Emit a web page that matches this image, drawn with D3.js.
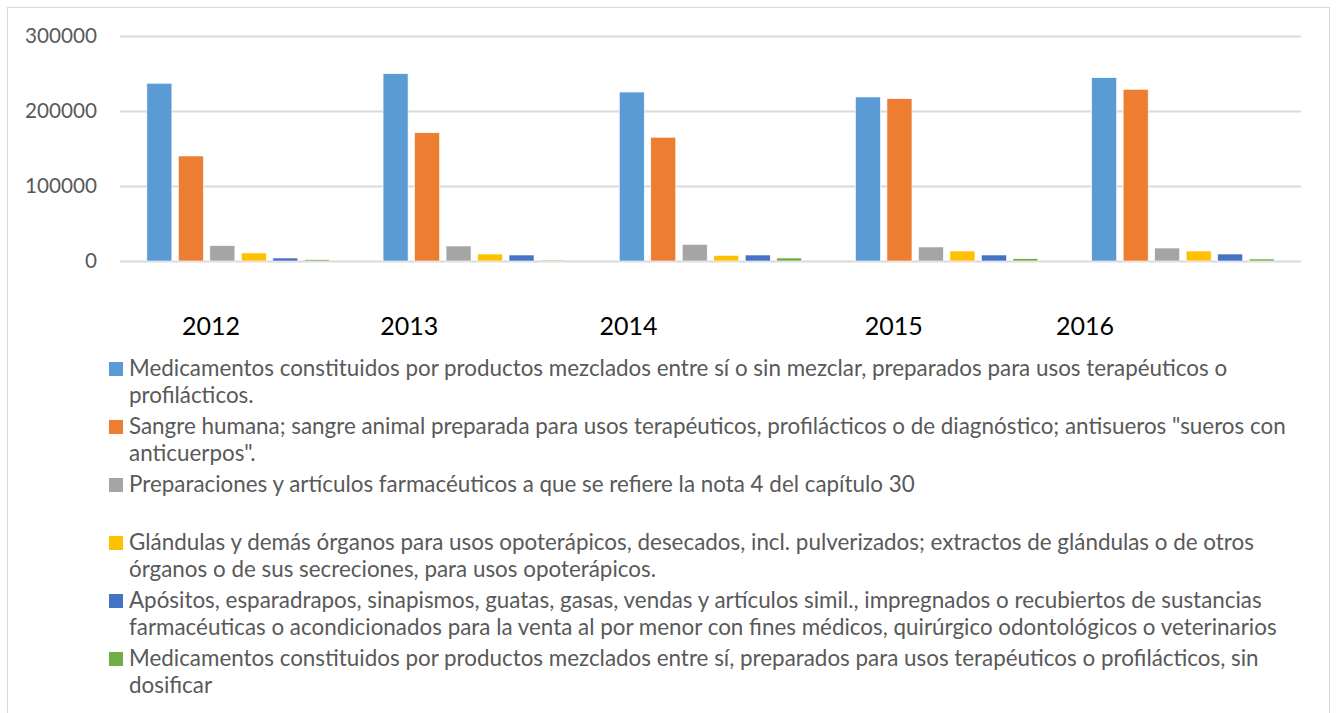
<!DOCTYPE html>
<html>
<head>
<meta charset="utf-8">
<script src="https://cdn.jsdelivr.net/npm/d3@7"></script>
<style>
  body { margin: 0; background: #fff; }
  svg { display: block; }
</style>
</head>
<body>
<svg id="chart" width="1336" height="713"></svg>
<script>
// data
let years = ["2012", "2013", "2014", "2015", "2016"];
let seriesNames = [
    "Medicamentos constituidos por productos mezclados entre sí o sin mezclar, preparados para usos terapéuticos o\nprofilácticos.",
    "Sangre humana; sangre animal preparada para usos terapéuticos, profilácticos o de diagnóstico; antisueros \"sueros con\nanticuerpos\".",
    "Preparaciones y artículos farmacéuticos a que se refiere la nota 4 del capítulo 30",
    "Glándulas y demás órganos para usos opoterápicos, desecados, incl. pulverizados; extractos de glándulas o de otros\nórganos o de sus secreciones, para usos opoterápicos.",
    "Apósitos, esparadrapos, sinapismos, guatas, gasas, vendas y artículos simil., impregnados o recubiertos de sustancias\nfarmacéuticas o acondicionados para la venta al por menor con fines médicos, quirúrgico odontológicos o veterinarios",
    "Medicamentos constituidos por productos mezclados entre sí, preparados para usos terapéuticos o profilácticos, sin\ndosificar"
];
let medicamentos = [237000, 249700, 225300, 218700, 244400];
let sangre = [140000, 171000, 165000, 216400, 228900];
let preparaciones = [20400, 20000, 22200, 18700, 17300];
let glandulas = [10700, 9300, 7500, 13300, 13300];
let apositos = [4000, 8000, 8000, 8000, 9300];
let sinDosificar = [1800, 1300, 4000, 3100, 2700];
let yTicks = [0, 100000, 200000, 300000];
let colors = ["#5B9BD5", "#ED7D31", "#A5A5A5", "#FFC000", "#4472C4", "#70AD47"];

let allSeries = [medicamentos, sangre, preparaciones, glandulas, apositos, sinDosificar];

// year captions were placed by hand in the original, off the group centres
let yearLabelOffset = [-27, -65, -82, -53, -98];

let svg = d3.select('#chart');
let fontFamily = "Lato, 'Open Sans', sans-serif";

// find the font size that gives a text a given width
let fitSize = function (text, width) {
    let t = svg.append('text').attr('font-family', fontFamily).attr('font-size', 100).text(text);
    let w = t.node().getComputedTextLength();
    t.remove();
    return 100 * width / w;
};

svg.append('rect')
    .attr('x', 7.5).attr('y', 7.5)
    .attr('width', 1322).attr('height', 720)
    .attr('fill', '#fff')
    .attr('stroke', '#D9D9D9');

let plot = { left: 120, right: 1301, top: 36, bottom: 261 };

let x0 = d3.scaleBand().domain(years).range([plot.left, plot.right]);
let x1 = d3.scaleBand().domain(d3.range(allSeries.length))
    .range([0, x0.bandwidth()])
    .paddingInner(0.206).paddingOuter(0.853);
let y = d3.scaleLinear().domain([0, 300000]).range([plot.bottom, plot.top]);

let tickSize = fitSize("300000", 72);
let yAxis = svg.append('g')
    .attr('transform', `translate(${plot.left},0)`)
    .call(d3.axisLeft(y).tickValues(yTicks).tickFormat(d3.format('d'))
        .tickSize(-(plot.right - plot.left)).tickPadding(23));
yAxis.select('.domain').remove();
yAxis.selectAll('.tick line').attr('stroke', '#D9D9D9').attr('stroke-width', 2);
yAxis.selectAll('.tick text')
    .attr('fill', '#595959')
    .attr('font-family', fontFamily)
    .attr('font-size', tickSize);

let groups = svg.append('g').selectAll('g')
    .data(years)
    .join('g')
    .attr('transform', d => `translate(${x0(d)},0)`);

groups.selectAll('rect')
    .data((d, i) => allSeries.map((s, k) => ({ k: k, v: s[i] })))
    .join('rect')
    .attr('x', d => x1(d.k))
    .attr('width', x1.bandwidth())
    .attr('y', d => y(d.v))
    .attr('height', d => y(0) - y(d.v))
    .attr('fill', d => colors[d.k])
    .attr('stroke', '#fff')
    .attr('stroke-width', 0.6);

let yearSize = fitSize("2012", 58);
svg.append('g').selectAll('text')
    .data(years)
    .join('text')
    .attr('x', (d, i) => x0(d) + x0.bandwidth() / 2 + yearLabelOffset[i])
    .attr('y', 335)
    .attr('text-anchor', 'middle')
    .attr('font-family', fontFamily)
    .attr('font-size', yearSize)
    .attr('fill', '#000')
    .text(d => d);

// legend
let legendSize = fitSize(seriesNames[0].split('\n')[0], 1099);
let legend = svg.append('g').selectAll('g')
    .data(seriesNames)
    .join('g')
    .attr('transform', (d, i) => `translate(109,${376 + i * 58})`);

legend.append('rect')
    .attr('x', 0).attr('y', -14)
    .attr('width', 14).attr('height', 14)
    .attr('fill', (d, i) => colors[i]);

legend.append('text')
    .attr('font-family', fontFamily)
    .attr('font-size', legendSize)
    .attr('fill', '#595959')
    .selectAll('tspan')
    .data(d => d.split('\n'))
    .join('tspan')
    .attr('x', 20)
    .attr('y', (d, i) => i * 27)
    .text(d => d);
</script>
</body>
</html>
